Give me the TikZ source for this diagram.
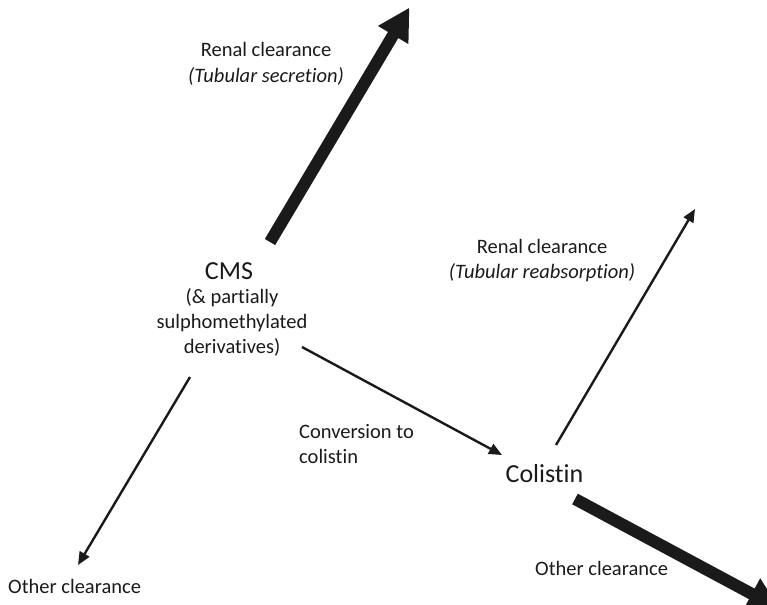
\documentclass[tikz,border=0pt]{standalone}
\usepackage{fontspec}
\setmainfont[Ligatures={NoCommon}]{Carlito}
\usetikzlibrary{arrows.meta}
\definecolor{ink}{HTML}{1A1A1A}
\begin{document}
\begin{tikzpicture}[x=1pt,y=-1pt,
  lbl/.style={inner sep=0pt, text=ink, font=\fontsize{20.5}{25}\selectfont, anchor=base},
  biglbl/.style={inner sep=0pt, text=ink, font=\fontsize{26}{30}\selectfont, anchor=base},
  heavyarrow/.style={line width=12pt, draw=ink, -{Triangle[length=32pt,width=33pt]}},
  lightarrow/.style={line width=2.4pt, draw=ink, -{Triangle[length=13pt,width=11pt]}},
]
\useasboundingbox (0,0) rectangle (767,604);
\clip (0,0) rectangle (767,604);

% texts
\node[lbl] (rs1) at (266,57) {Renal clearance};
\node[lbl] (rs2) at (266,83) {\itshape (Tubular secretion)};
\node[biglbl] (cms) at (229,279) {CMS};
\node[lbl] (cms1) at (232,303) {(\& partially};
\node[lbl] (cms2) at (232,328) {sulphomethylated};
\node[lbl] (cms3) at (232,353) {derivatives)};
\node[lbl, anchor=base west] (conv1) at (299,438) {Conversion to};
\node[lbl, anchor=base west] (conv2) at (299,463) {colistin};
\node[biglbl] (col) at (544.5,482) {Colistin};
\node[lbl] (rr1) at (542,253) {Renal clearance};
\node[lbl] (rr2) at (542,278) {\itshape (Tubular reabsorption)};
\node[lbl, anchor=base west] (ocl) at (8,593) {Other clearance};
\node[lbl, anchor=base west] (ocr) at (535,575) {Other clearance};

% connector end points
\coordinate (cmsNE) at (270,242);
\coordinate (secTip) at (409.5,7.5);
\coordinate (cmsSE) at (302,347);
\coordinate (colNW) at (502,455);
\coordinate (cmsSW) at (190,377);
\coordinate (oclTip) at (78,565);
\coordinate (colNE) at (556,445);
\coordinate (reaTip) at (695,209);
\coordinate (colSE) at (575,499);
\coordinate (ocrTip) at (780,609);

% connectors
\draw[heavyarrow] (cmsNE) -- (secTip);
\draw[lightarrow] (cmsSE) -- (colNW);
\draw[lightarrow] (cmsSW) -- (oclTip);
\draw[lightarrow] (colNE) -- (reaTip);
\draw[heavyarrow] (colSE) -- (ocrTip);
\end{tikzpicture}
\end{document}
